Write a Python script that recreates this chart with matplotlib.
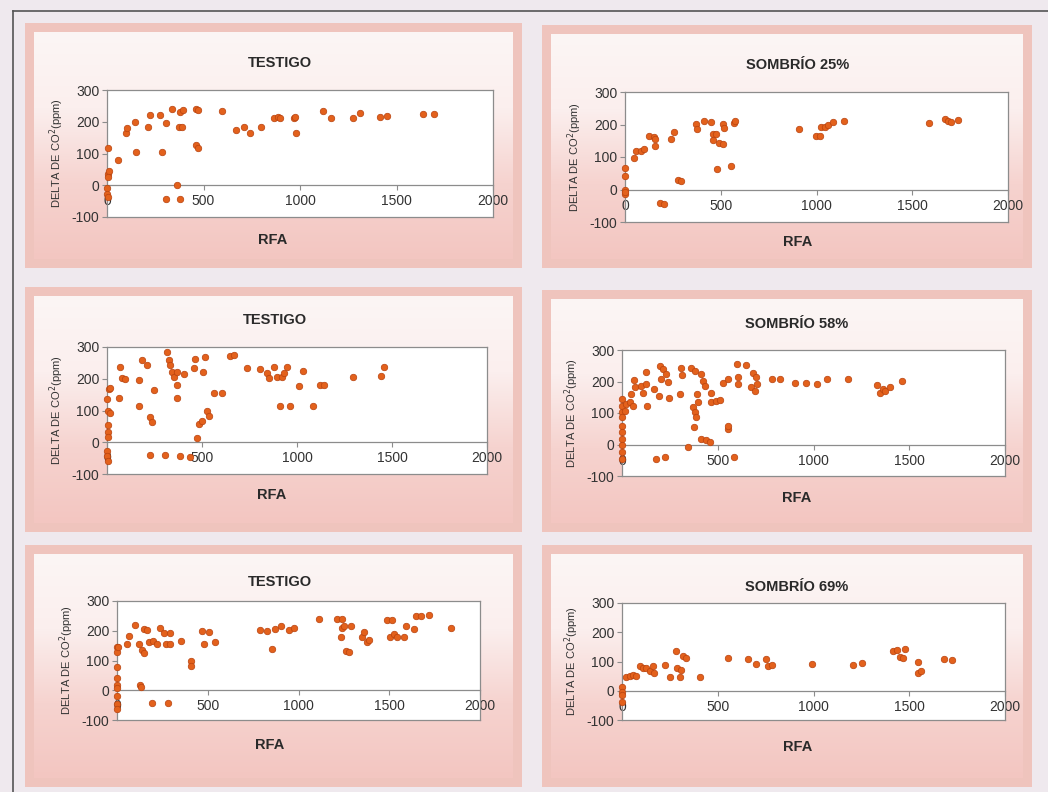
import numpy as np
import matplotlib
matplotlib.use("Agg")
import matplotlib.pyplot as plt
from matplotlib.patches import Rectangle

# ---------------- DATA ----------------
titles = ["TESTIGO", "SOMBRÍO 25%", "TESTIGO", "SOMBRÍO 58%", "TESTIGO", "SOMBRÍO 69%"]
x_ticks = [0, 500, 1000, 1500, 2000]
y_ticks = [-100, 0, 100, 200, 300]
x_label = "RFA"
y_label = "DELTA DE CO$^{2}$(ppm)"

rfa_1 = [5, 5, 8, 3, 0, 2, 5, 57, 97, 104, 143, 152, 212, 221, 273, 285, 307, 307, 338, 363, 373, 376,
         394, 376, 390, 459, 472, 463, 472, 598, 670, 708, 743, 800, 865, 886, 895, 967, 972, 978,
         1119, 1162, 1275, 1313, 1416, 1451, 1638, 1692]
co2_1 = [116, 37, 45, 26, -10, -26, -37, 79, 163, 179, 200, 105, 182, 221, 221, 105, 195, -42, 239, 0,
         184, 232, 237, -42, 184, 239, 237, 126, 116, 235, 174, 182, 163, 184, 213, 216, 211, 211, 216,
         163, 234, 213, 213, 228, 214, 218, 223, 223]

rfa_2 = [0, 0, 0, 0, 0, 49, 57, 84, 101, 127, 150, 157, 157, 185, 206, 240, 258, 279, 293, 371, 376,
         415, 449, 458, 476, 458, 481, 493, 510, 514, 519, 554, 568, 577, 911, 998, 1016, 1021, 1042,
         1059, 1085, 1146, 1590, 1669, 1686, 1704, 1739]
co2_2 = [66, 43, -3, -13, -8, 97, 120, 117, 125, 166, 161, 135, 156, -42, -44, 156, 176, 30, 25, 202,
         187, 212, 209, 171, 171, 151, 62, 143, 141, 202, 190, 71, 204, 210, 187, 166, 166, 192, 192,
         200, 207, 212, 204, 217, 212, 209, 215]

rfa_3 = [9, 18, 0, 4, 18, 4, 4, 4, 0, 0, 4, 61, 67, 79, 96, 167, 167, 184, 211, 225, 237, 246, 228, 307,
         316, 325, 333, 342, 351, 368, 368, 368, 404, 386, 439, 456, 465, 474, 482, 500, 505, 518, 526,
         535, 561, 605, 646, 667, 737, 807, 842, 851, 877, 895, 912, 921, 930, 947, 961, 1009, 1032,
         1084, 1123, 1140, 1295, 1442, 1460]
co2_3 = [168, 171, 137, 100, 92, 53, 32, 16, -26, -42, -58, 139, 237, 202, 200, 195, 114, 258, 242, 79,
         63, 163, -40, -40, 284, 258, 242, 221, 205, 221, 179, 139, 216, -44, -47, 234, 261, 13, 58,
         68, 221, 268, 97, 84, 156, 156, 272, 274, 234, 232, 219, 202, 237, 205, 114, 205, 219, 237,
         114, 177, 223, 114, 179, 179, 205, 208, 237]

rfa_4 = [0, 0, 0, 0, 0, 0, 0, 0, 0, 0, 14, 23, 40, 49, 57, 63, 66, 98, 110, 127, 127, 132, 167, 179, 192,
         197, 202, 214, 223, 232, 240, 244, 301, 307, 315, 345, 362, 371, 380, 380, 376, 389, 394, 397,
         415, 423, 432, 415, 441, 458, 463, 467, 493, 510, 528, 551, 551, 554, 585, 598, 606, 606, 645,
         676, 685, 694, 702, 707, 784, 824, 902, 963, 1016, 1068, 1181, 1329, 1347, 1364, 1373, 1399,
         1460]
co2_4 = [144, 123, 102, 86, 60, 39, 18, -3, -24, -45, 107, 128, 134, 160, 123, 205, 181, 186, 165, 192,
         231, 123, 176, -45, 155, 249, 207, 241, -40, 223, 197, 149, 160, 244, 220, -8, 244, 118, 234,
         102, 55, 86, 160, 136, 223, 202, 186, 18, 13, 7, 165, 134, 139, 142, 195, 209, 49, 60, -40,
         255, 213, 192, 252, 181, 228, 171, 213, 192, 209, 207, 195, 195, 192, 207, 207, 188, 165, 176,
         171, 181, 202]

rfa_5 = [0, 0, 0, 0, 0, 0, 0, 0, 0, 4, 64, 55, 101, 119, 125, 132, 138, 147, 151, 165, 175, 193, 197, 221,
         235, 261, 272, 279, 294, 294, 355, 408, 408, 469, 478, 506, 542, 787, 827, 855, 868, 901, 947,
         974, 1112, 1213, 1240, 1232, 1240, 1250, 1259, 1278, 1287, 1351, 1360, 1379, 1388, 1489, 1504,
         1517, 1526, 1544, 1581, 1590, 1636, 1645, 1673, 1719, 1838]
co2_5 = [145, 128, 78, 42, 19, 8, -21, -46, -63, 147, 184, 154, 218, 156, 16, 10, 134, 126, 207, 201,
         162, -44, 165, 154, 210, 192, 156, -44, 192, 156, 165, 100, 83, 199, 154, 196, 162, 201, 199,
         139, 207, 215, 203, 210, 240, 240, 240, 179, 210, 215, 131, 128, 215, 179, 196, 162, 168, 235,
         179, 237, 190, 179, 179, 217, 207, 248, 248, 252, 210]

rfa_6 = [0, 0, 0, 0, 23, 40, 57, 75, 92, 110, 127, 145, 162, 167, 223, 249, 284, 289, 301, 310, 319, 336,
         406, 551, 658, 702, 753, 761, 782, 990, 1207, 1251, 1416, 1434, 1451, 1469, 1477, 1547, 1547,
         1561, 1683, 1721]
co2_6 = [14, -3, -15, -38, 46, 49, 54, 49, 83, 77, 77, 66, 86, 60, 89, 46, 135, 77, 46, 72, 118, 112, 46,
         112, 109, 92, 109, 86, 89, 92, 89, 95, 135, 141, 116, 112, 143, 97, 62, 66, 109, 106]

series = [(rfa_1, co2_1), (rfa_2, co2_2), (rfa_3, co2_3), (rfa_4, co2_4), (rfa_5, co2_5), (rfa_6, co2_6)]

# ---------------- LAYOUT (pixels) ----------------
W, H = 1048, 792
panels = [(25, 23, 522, 268), (542, 25, 1032, 268),
          (25, 287, 522, 532), (542, 290, 1032, 532),
          (25, 545, 522, 787), (542, 545, 1032, 787)]
axes_px = [(107, 90, 493, 217), (625, 92, 1008, 222),
           (107, 347, 487, 474), (622, 350, 1005, 476),
           (117, 601, 480, 720), (622, 603, 1005, 720)]
title_px = [(280, 63), (798, 65), (275, 320), (797, 324), (280, 582), (797, 587)]
xlabel_px = [(273, 240), (798, 242), (272, 495), (797, 498), (270, 745), (798, 747)]

plt.rcParams['font.family'] = ['Liberation Sans', 'DejaVu Sans']
fig = plt.figure(figsize=(W / 100, H / 100), dpi=100)
fig.patch.set_facecolor('#efe9ee')

bg = fig.add_axes([0, 0, 1, 1])
bg.set_xlim(0, W)
bg.set_ylim(H, 0)
bg.axis('off')

# page frame lines
bg.plot([13, 13], [11, H], color='#555555', lw=1.2)
bg.plot([13, W], [11, 11], color='#555555', lw=1.2)

grad = np.linspace(0, 1, 256).reshape(-1, 1)
from matplotlib.colors import LinearSegmentedColormap
cmap = LinearSegmentedColormap.from_list('pk', ['#fcf6f5', '#fbefee', '#f6d3cf', '#f3c6c1'])
for (x0, y0, x1, y1) in panels:
    bg.add_patch(Rectangle((x0, y0), x1 - x0, y1 - y0, facecolor='#efc4bd', edgecolor='none', zorder=1))
    b = 9
    bg.imshow(grad, cmap=cmap, extent=(x0 + b, x1 - b, y1 - b, y0 + b), aspect='auto', zorder=2,
              interpolation='bilinear')
bg.set_xlim(0, W)
bg.set_ylim(H, 0)

for i, (rfa, co2) in enumerate(series):
    l, t, r, btm = axes_px[i]
    ax = fig.add_axes([l / W, 1 - btm / H, (r - l) / W, (btm - t) / H])
    ax.set_facecolor('white')
    ax.scatter(rfa, co2, s=22, color='#e3611c', edgecolors='#b8420e', linewidths=0.5, zorder=3,
               clip_on=False)
    ax.set_xlim(0, 2000)
    ax.set_ylim(-100, 300)
    ax.set_xticks(x_ticks)
    ax.set_yticks(y_ticks)
    ax.set_xticklabels([str(v) for v in x_ticks])
    ax.set_yticklabels([str(v) for v in y_ticks])
    for s in ['top', 'right']:
        ax.spines[s].set_color('#8c8c8c')
        ax.spines[s].set_linewidth(0.9)
    ax.spines['left'].set_color('#8c8c8c')
    ax.spines['left'].set_linewidth(0.9)
    ax.spines['bottom'].set_position(('data', 0))
    ax.spines['bottom'].set_color('#8c8c8c')
    ax.spines['bottom'].set_linewidth(0.9)
    # bottom border of plot area
    ax.plot([0, 1], [0, 0], transform=ax.transAxes, color='#8c8c8c', lw=0.9, clip_on=False, zorder=1)
    ax.tick_params(axis='both', colors='#8c8c8c', labelcolor='#333333', labelsize=10, length=3.5,
                   width=0.8, direction='out', pad=2)
    ax.tick_params(axis='x', pad=3)
    ax.set_ylabel(y_label, fontsize=8, color='#333333', labelpad=4,
                  family=['Liberation Sans Narrow', 'Liberation Sans', 'DejaVu Sans'])
    tx, ty = title_px[i]
    bg.text(tx, ty, titles[i], ha='center', va='center', fontsize=10.5, fontweight='bold',
            color='#2a2a2a', zorder=5)
    lx, ly = xlabel_px[i]
    bg.text(lx, ly, x_label, ha='center', va='center', fontsize=10.5, fontweight='bold',
            color='#2a2a2a', zorder=5)

fig.savefig('out.png', dpi=100, facecolor=fig.get_facecolor())
